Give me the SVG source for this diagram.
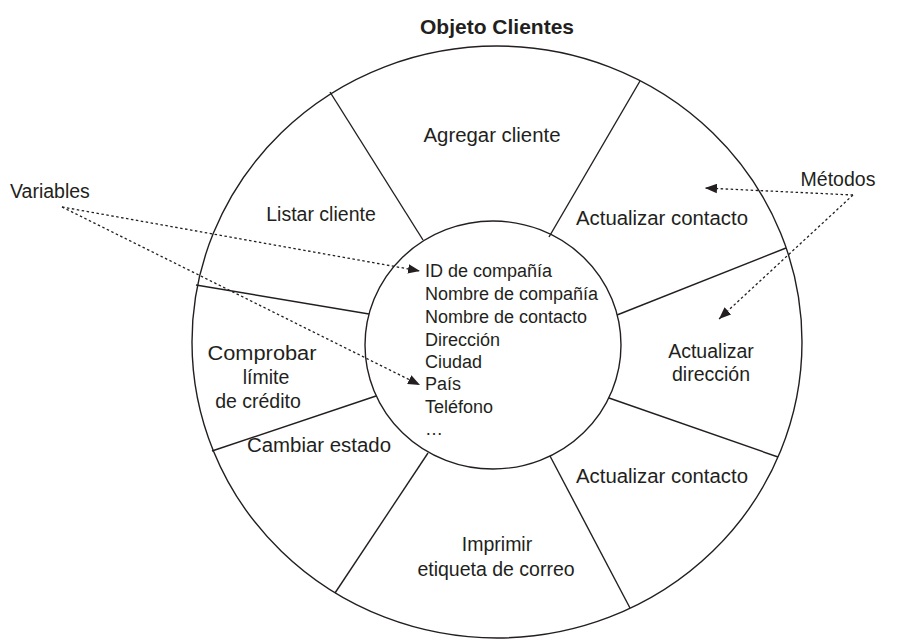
<svg xmlns="http://www.w3.org/2000/svg" width="898" height="640" viewBox="0 0 898 640">
<style>
text{font-family:"Liberation Sans",Arial,sans-serif;font-size:19.5px;fill:#231f20}
.c{text-anchor:middle}
.list text{font-size:18px}
.shape{fill:none;stroke:#231f20;stroke-width:1.4}
.dot{fill:none;stroke:#231f20;stroke-width:1.3;stroke-dasharray:2.5 2.5}
</style>
<defs>
<marker id="ah" viewBox="0 0 10 8" refX="10" refY="4" markerWidth="12" markerHeight="10" markerUnits="userSpaceOnUse" orient="auto">
<path d="M0,0 L10,4 L0,8 z" fill="#231f20"/>
</marker>
</defs>
<rect width="898" height="640" fill="#fff"/>
<g id="title"><text class="c" x="497" y="34" style="font-weight:bold;font-size:21px">Objeto Clientes</text></g>
<g id="objeto">
<ellipse class="shape" cx="497" cy="342" rx="305" ry="296"/>
<g id="spokes">
<line class="shape" x1="423" y1="240" x2="330" y2="92"/>
<line class="shape" x1="549" y1="237" x2="640" y2="81"/>
<line class="shape" x1="617" y1="315" x2="786" y2="248"/>
<line class="shape" x1="609" y1="398" x2="778" y2="457"/>
<line class="shape" x1="550" y1="456" x2="630" y2="608"/>
<line class="shape" x1="428" y1="453" x2="335" y2="593"/>
<line class="shape" x1="376" y1="396" x2="212" y2="451"/>
<line class="shape" x1="369" y1="314" x2="196" y2="285"/>
</g>
</g>
<g id="variables-core">
<ellipse class="shape" cx="493" cy="345" rx="128" ry="124" fill="#fff"/>
<g class="list">
<text x="425" y="277">ID de compañía</text>
<text x="425" y="300">Nombre de compañía</text>
<text x="425" y="323">Nombre de contacto</text>
<text x="425" y="346">Dirección</text>
<text x="425" y="368">Ciudad</text>
<text x="425" y="390">País</text>
<text x="425" y="413">Teléfono</text>
<text x="425" y="435">…</text>
</g>
</g>
<g id="m-agregar"><text class="c" x="492" y="142" textLength="137" lengthAdjust="spacingAndGlyphs">Agregar cliente</text></g>
<g id="m-listar"><text class="c" x="321" y="221">Listar cliente</text></g>
<g id="m-contacto1"><text class="c" x="662" y="225" textLength="172" lengthAdjust="spacingAndGlyphs">Actualizar contacto</text></g>
<g id="m-direccion"><text class="c" x="711" y="358">Actualizar</text><text class="c" x="711" y="381">dirección</text></g>
<g id="m-contacto2"><text class="c" x="662" y="483" textLength="172" lengthAdjust="spacingAndGlyphs">Actualizar contacto</text></g>
<g id="m-imprimir"><text class="c" x="497" y="551">Imprimir</text><text class="c" x="496" y="576">etiqueta de correo</text></g>
<g id="m-estado"><text class="c" x="319" y="452" textLength="144" lengthAdjust="spacingAndGlyphs">Cambiar estado</text></g>
<g id="m-credito"><text class="c" x="262" y="360" textLength="109" lengthAdjust="spacingAndGlyphs">Comprobar</text><text class="c" x="266" y="384">límite</text><text class="c" x="258" y="408">de crédito</text></g>
<g id="label-variables"><text x="10" y="198">Variables</text></g>
<g id="label-metodos"><text class="c" x="838" y="186">Métodos</text></g>
<g id="connectors">
<line class="dot" x1="62" y1="207" x2="420" y2="271" marker-end="url(#ah)"/>
<line class="dot" x1="62" y1="207" x2="420" y2="385" marker-end="url(#ah)"/>
<line class="dot" x1="853" y1="195" x2="705" y2="188" marker-end="url(#ah)"/>
<line class="dot" x1="853" y1="195" x2="719" y2="319" marker-end="url(#ah)"/>
</g>
</svg>
